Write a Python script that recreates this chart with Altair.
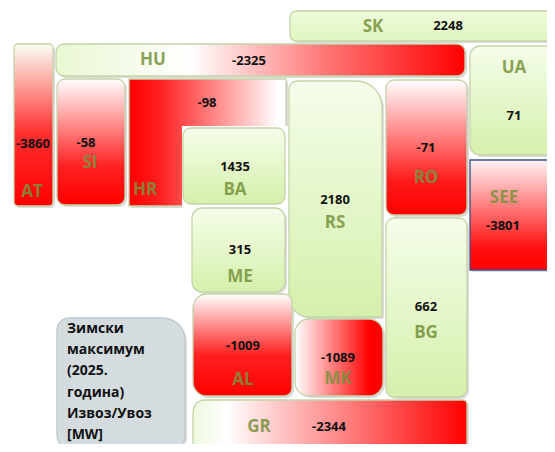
import altair as alt
import pandas as pd

# ---- data ----
codes = ["AT", "HU", "SI", "HR", "BA", "SK", "UA", "RS", "RO", "SEE", "BG", "MK", "ME", "AL", "GR"]
values = [-3860, -2325, -58, -98, 1435, 2248, 71, 2180, -71, -3801, 662, -1089, 315, -1009, -2344]
legend_lines = ["Зимски", "максимум", "(2025.", "година)", "Извоз/Увоз", "[MW]"]

# ---- layout (schematic positions, reference pixel grid) ----
boxes = {
    "AT": (14, 53, 44, 206),
    "HU": (56, 465, 44, 76),
    "SI": (57, 125, 79, 205),
    "HR": (129, 286, 79, 206),
    "BA": (183, 285, 128, 204),
    "SK": (290, 562, 11, 41),
    "UA": (470, 562, 46, 155),
    "RS": (289, 382, 81, 317),
    "RO": (386, 467, 80, 215),
    "SEE": (470, 562, 160, 270),
    "BG": (386, 467, 218, 397),
    "MK": (295, 383, 319, 396),
    "ME": (192, 285, 208, 292),
    "AL": (193, 292, 294, 396),
    "GR": (193, 467, 400, 462),
}
value_pos = {"AT": (33, 144), "HU": (249, 61), "SI": (86, 143), "HR": (207, 103), "BA": (235, 167),
             "SK": (448, 26), "UA": (514, 116), "RS": (335, 200), "RO": (426, 148), "SEE": (503, 226),
             "BG": (426, 307), "MK": (338, 358), "ME": (240, 250), "AL": (243, 346), "GR": (329, 427)}
code_pos = {"AT": (32, 192), "HU": (153, 60), "SI": (90, 163), "HR": (145, 190), "BA": (235, 190),
            "SK": (373, 27), "UA": (514, 68), "RS": (335, 223), "RO": (426, 178), "SEE": (504, 198),
            "BG": (426, 333), "MK": (338, 379), "ME": (240, 277), "AL": (243, 380), "GR": (259, 427)}

RED = "#ff0000"
WHITE = "#ffffff"
G_TOP = "#f5fdea"
G_BOT = "#d5f0ab"
PALE = "#e9f7d2"


def grad(stops, horizontal):
    gs = [alt.GradientStop(offset=o, color=c) for o, c in stops]
    if horizontal:
        return alt.LinearGradient(gradient="linear", stops=gs, x1=0, x2=1, y1=0, y2=0)
    return alt.LinearGradient(gradient="linear", stops=gs, x1=0, x2=0, y1=0, y2=1)


green_v = [(0, G_TOP), (1, G_BOT)]
styles = {
    "AT": dict(fill=grad([(0, "#fbfff4"), (0.55, "#ff3030"), (1, RED)], False), r=(4, 4, 4, 4)),
    "HU": dict(fill=grad([(0, PALE), (0.33, WHITE), (0.65, "#ff7a7a"), (1, RED)], True), r=(8, 8, 8, 8)),
    "SI": dict(fill=grad([(0, WHITE), (0.7, "#ff2020"), (1, RED)], False), r=(8, 8, 8, 8)),
    "HR": dict(fill=grad([(0, RED), (0.2, "#ff2020"), (0.95, WHITE), (1, WHITE)], True), r=(0, 0, 0, 0)),
    "BA": dict(fill=grad(green_v, False), r=(8, 8, 8, 8)),
    "SK": dict(fill=grad([(0, "#eefbdc"), (1, "#dff5c0")], False), r=(6, 6, 6, 6)),
    "UA": dict(fill=grad(green_v, False), r=(10, 10, 10, 10)),
    "RS": dict(fill=grad(green_v, False), r=(8, 26, 20, 2)),
    "RO": dict(fill=grad([(0, WHITE), (0.75, "#ff1a1a"), (1, RED)], False), r=(8, 8, 8, 8)),
    "SEE": dict(fill=grad([(0, "#fff4f4"), (0.8, "#ff1010"), (1, RED)], False), r=(0, 0, 0, 0), stroke="#3b4f86"),
    "BG": dict(fill=grad(green_v, False), r=(8, 8, 8, 8)),
    "MK": dict(fill=grad([(0, WHITE), (0.85, RED), (1, RED)], True), r=(14, 14, 14, 14)),
    "ME": dict(fill=grad(green_v, False), r=(10, 10, 10, 10)),
    "AL": dict(fill=grad([(0, WHITE), (0.6, "#ff2020"), (1, RED)], False), r=(14, 8, 14, 8)),
    "GR": dict(fill=grad([(0, "#edf8dc"), (0.12, WHITE), (1, RED)], True), r=(12, 4, 12, 12)),
}

X = dict(scale=alt.Scale(domain=[8, 547], nice=False, zero=False), axis=None)
Y = dict(scale=alt.Scale(domain=[8, 444], nice=False, zero=False, reverse=True), axis=None)


def box_layer(x, x2, y, y2, fill, r, stroke="#c5d3a8", sw=1.3, opacity=1.0):
    df = pd.DataFrame({"x": [x], "x2": [x2], "y": [y], "y2": [y2]})
    return alt.Chart(df).mark_rect(
        fill=fill, stroke=stroke, strokeWidth=sw, opacity=opacity, clip=True,
        cornerRadiusTopLeft=r[0], cornerRadiusTopRight=r[1],
        cornerRadiusBottomLeft=r[2], cornerRadiusBottomRight=r[3],
    ).encode(x=alt.X("x:Q", **X), x2="x2:Q", y=alt.Y("y:Q", **Y), y2="y2:Q")


layers = []
# soft shadows
for c in codes:
    x, x2, y, y2 = boxes[c]
    st = styles[c]
    layers.append(box_layer(x + 2, x2 + 2, y + 2, y2 + 2, "#9a9a9a", st["r"], stroke="#9a9a9a", sw=0, opacity=0.35))
# legend shadow
layers.append(box_layer(59, 187, 320, 450, "#9a9a9a", (12, 22, 12, 12), stroke="#9a9a9a", sw=0, opacity=0.35))

for c in codes:
    x, x2, y, y2 = boxes[c]
    st = styles[c]
    layers.append(box_layer(x, x2, y, y2, st["fill"], st["r"], stroke=st.get("stroke", "#c5d3a8")))
    if c == "HR":
        # white notch of the L-shaped HR area
        layers.append(box_layer(182, 288, 126, 209, WHITE, (0, 0, 0, 0), stroke=WHITE, sw=0))

# legend box
layers.append(box_layer(57, 185, 318, 448, "#d4dce0", (12, 22, 12, 12), stroke="#bfc8cc"))

vals_df = pd.DataFrame({
    "code": codes,
    "label": [str(v) for v in values],
    "x": [value_pos[c][0] for c in codes],
    "y": [value_pos[c][1] for c in codes],
})
codes_df = pd.DataFrame({
    "code": codes,
    "x": [code_pos[c][0] for c in codes],
    "y": [code_pos[c][1] for c in codes],
})
legend_df = pd.DataFrame({"text": ["\n".join(legend_lines)], "x": [67], "y": [322]})

layers.append(alt.Chart(vals_df).mark_text(
    font="Open Sans", fontWeight="bold", fontSize=13, color="#111111", baseline="middle", align="center"
).encode(x=alt.X("x:Q", **X), y=alt.Y("y:Q", **Y), text="label:N"))

layers.append(alt.Chart(codes_df).mark_text(
    font="Open Sans", fontWeight="bold", fontSize=17, color="#77933C", opacity=0.85, baseline="middle", align="center"
).encode(x=alt.X("x:Q", **X), y=alt.Y("y:Q", **Y), text="code:N"))

layers.append(alt.Chart(legend_df).mark_text(
    font="Open Sans", fontWeight="bold", fontSize=14, color="#111111", baseline="top", align="left",
    lineBreak="\n", lineHeight=21.2
).encode(x=alt.X("x:Q", **X), y=alt.Y("y:Q", **Y), text="text:N"))

chart = alt.layer(*layers).properties(
    width=539, height=436, padding=0, autosize=alt.AutoSizeParams(type="none"),
    background="white"
).configure_view(stroke=None)

chart.save("out.html", embed_options={"renderer": "svg", "actions": False})
